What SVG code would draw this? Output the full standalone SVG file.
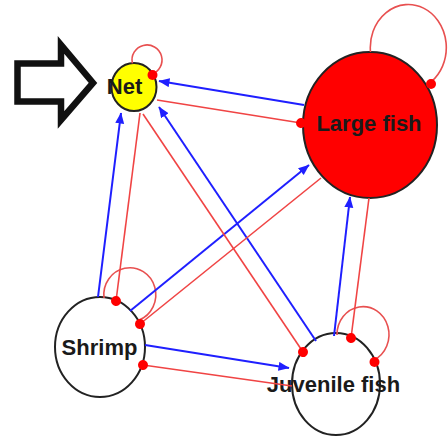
<svg xmlns="http://www.w3.org/2000/svg" width="448" height="438" viewBox="0 0 448 438">
<defs>
<style>
.node{stroke:#222;stroke-width:2}
.lbl{font-family:"Liberation Sans",Arial,sans-serif;font-weight:bold;font-size:22px;fill:#1a1a1a;text-anchor:middle}
.pos{stroke:#1f1fff;stroke-width:2;fill:none;marker-end:url(#arrow)}
.neg{stroke:#f04444;stroke-width:1.6;fill:none;marker-end:url(#dot)}
.loop{stroke:#e85050;stroke-width:1.6;fill:none}
.end{fill:#ff0000}
</style>
<marker id="arrow" markerUnits="userSpaceOnUse" markerWidth="12" markerHeight="10" refX="10.5" refY="4.5" orient="auto">
<path d="M0,0 L11,4.5 L0,9 z" fill="#1f1fff"/>
</marker>
<marker id="dot" markerUnits="userSpaceOnUse" markerWidth="12" markerHeight="12" refX="6" refY="6" orient="auto">
<circle cx="6" cy="6" r="5" fill="#ff0000"/>
</marker>
</defs>
<rect width="448" height="438" fill="#ffffff"/>
<polygon id="pointer" points="17.5,63.5 61,63.5 61,45 93,83 61,120 61,101.5 17.5,101.5" fill="#ffffff" stroke="#111" stroke-width="6.5" stroke-linejoin="miter"/>
<g id="net">
<ellipse class="node" cx="134" cy="87" rx="22.5" ry="24" fill="#ffff00"/>
<text class="lbl" x="124.5" y="94">Net</text>
</g>
<g id="large-fish">
<ellipse class="node" cx="370" cy="125" rx="67" ry="73" fill="#ff0000"/>
<text class="lbl" x="369" y="131" fill="#2a0000">Large fish</text>
</g>
<g id="shrimp">
<ellipse class="node" cx="100" cy="347" rx="45" ry="50" fill="#ffffff"/>
<text class="lbl" x="99.5" y="355">Shrimp</text>
</g>
<g id="juvenile-fish">
<ellipse class="node" cx="336" cy="384" rx="44" ry="51" fill="#ffffff"/>
<text class="lbl" x="333.5" y="392">Juvenile fish</text>
</g>
<g id="connectors">
<path class="loop" d="M132.4,63.4 A15,15 0 1 1 151.4,74.3"/>
<path class="loop" d="M370.5,52 A38,43 0 1 1 431,82"/>
<path class="loop" d="M104,298 A26,27 0 1 1 139,320"/>
<path class="loop" d="M337,335 A26,28 0 1 1 374,360"/>
<circle class="end" cx="152.5" cy="75" r="5"/>
<circle class="end" cx="431" cy="84" r="5"/>
<circle class="end" cx="374.5" cy="362" r="5"/>
<line class="pos" x1="304" y1="105" x2="159" y2="81"/>
<line class="pos" x1="98" y1="297" x2="121" y2="113"/>
<line class="pos" x1="316" y1="341" x2="159" y2="107"/>
<line class="pos" x1="130" y1="311" x2="309" y2="165"/>
<line class="pos" x1="145" y1="345" x2="289" y2="368"/>
<line class="pos" x1="334" y1="336" x2="350" y2="197"/>
<line class="neg" x1="157" y1="100" x2="301" y2="123"/>
<line class="neg" x1="140" y1="113" x2="116" y2="301"/>
<line class="neg" x1="143" y1="114" x2="303" y2="352"/>
<line class="neg" x1="321" y1="178" x2="140" y2="324"/>
<line class="neg" x1="292" y1="386" x2="143" y2="365"/>
<line class="neg" x1="369" y1="198" x2="351" y2="338"/>
</g>
</svg>
